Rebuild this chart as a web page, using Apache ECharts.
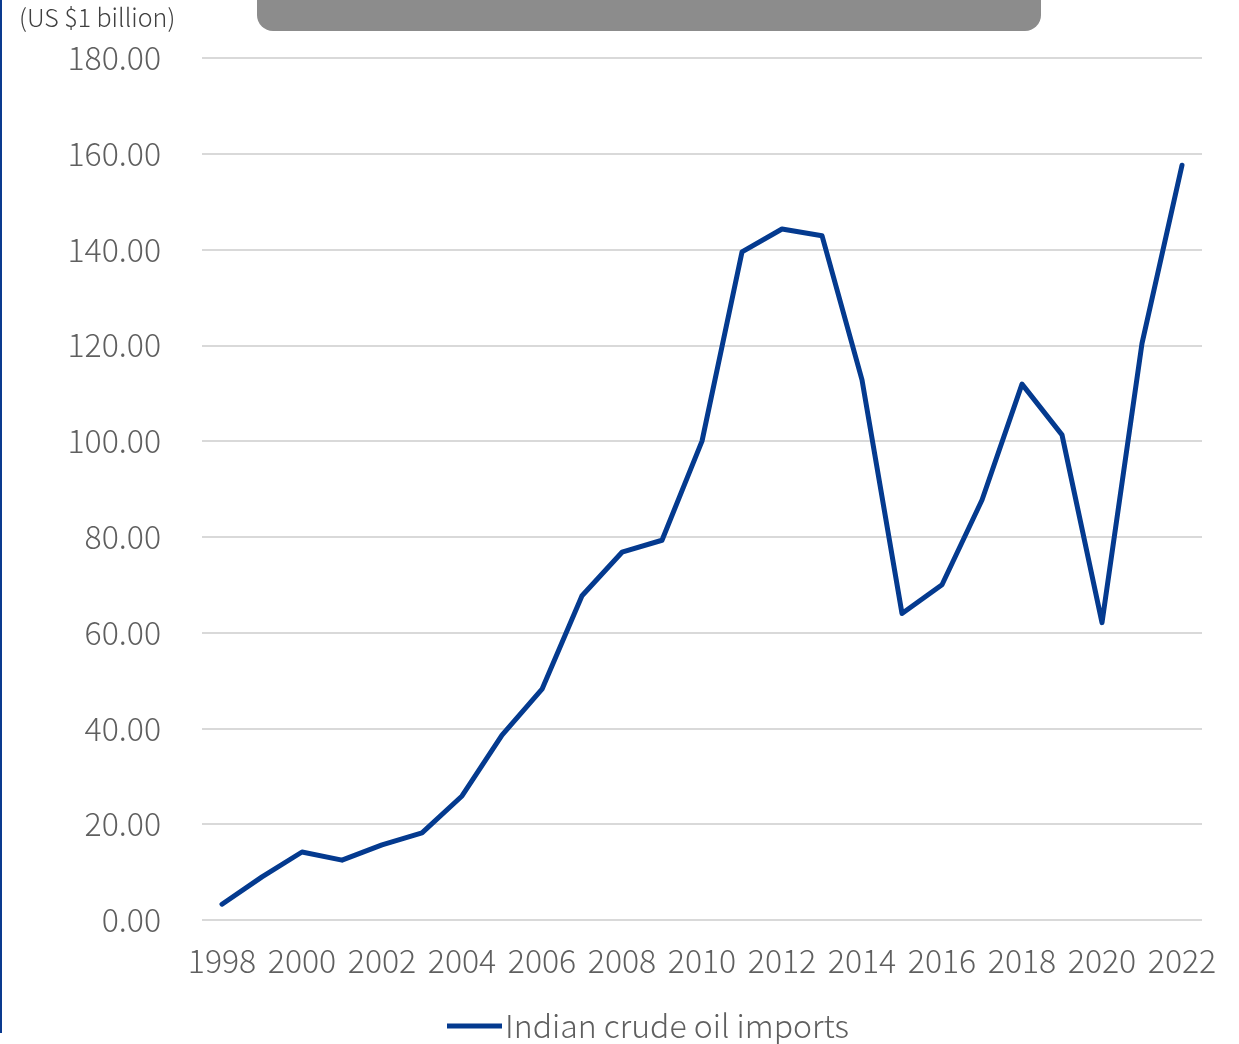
<!DOCTYPE html>
<html><head><meta charset="utf-8">
<style>html,body{margin:0;padding:0;background:#fff;}#c{width:1239px;height:1044px;}</style>
<script src="https://cdn.jsdelivr.net/npm/echarts@6/dist/echarts.min.js"></script>
</head><body><div id="c"></div>
<script>
const years = ['1998','1999','2000','2001','2002','2003','2004','2005','2006','2007','2008','2009','2010','2011','2012','2013','2014','2015','2016','2017','2018','2019','2020','2021','2022'];
const imports = [3.3,9.0,14.2,12.5,15.7,18.2,25.9,38.6,48.2,67.7,76.8,79.3,100.0,139.5,144.3,142.9,112.8,64.0,70.0,87.7,111.9,101.3,62.1,120.4,157.6];
const seriesName = 'Indian crude oil imports';
const unitLabel = '(US $1 billion)';

const FONT = '"Noto Sans CJK JP", "Noto Sans", sans-serif';
const chart = echarts.init(document.getElementById('c'), null, {renderer:'canvas'});
chart.setOption({
  animation:false,
  backgroundColor:'#ffffff',
  textStyle:{fontFamily:FONT},
  graphic:[
    {type:'rect', shape:{x:257,y:-20,width:784,height:51,r:16}, style:{fill:'#8c8c8c'}},
    {type:'rect', shape:{x:0,y:0,width:2,height:1033}, style:{fill:'#0a3a8f'}},
    {type:'text', left:19, top:5, style:{text:unitLabel, font:'300 25px '+FONT, fill:'#404040'}}
  ],
  grid:{left:202, right:37, top:58, bottom:124, containLabel:false},
  legend:{
    bottom:-3, left:442,
    itemWidth:55, itemHeight:5, itemGap:10,
    textStyle:{fontSize:32, fontWeight:300, color:'#5f5f5f', fontFamily:FONT, padding:[0,0,0,-2]},
    data:[{name:seriesName, icon:'path://M0,0 L55,0 L55,5 L0,5 Z'}]
  },
  xAxis:{
    type:'category', data:years, boundaryGap:true,
    axisLine:{show:false}, axisTick:{show:false},
    axisLabel:{interval:1, color:'#5f5f5f', fontSize:32, fontWeight:300, margin:25, fontFamily:FONT}
  },
  yAxis:{
    type:'value', min:0, max:180, interval:20,
    axisLine:{show:false}, axisTick:{show:false},
    splitLine:{lineStyle:{color:'#d9d9d9', width:2}},
    axisLabel:{color:'#5f5f5f', fontSize:32, fontWeight:300, margin:41, fontFamily:FONT, padding:[0,0,5,0], formatter:v=>v.toFixed(2)}
  },
  series:[{
    name:seriesName, type:'line', data:imports,
    symbol:'none', lineStyle:{color:'#043a8f', width:5, cap:'round', join:'round'},
    itemStyle:{color:'#043a8f'}
  }]
});
</script></body></html>
